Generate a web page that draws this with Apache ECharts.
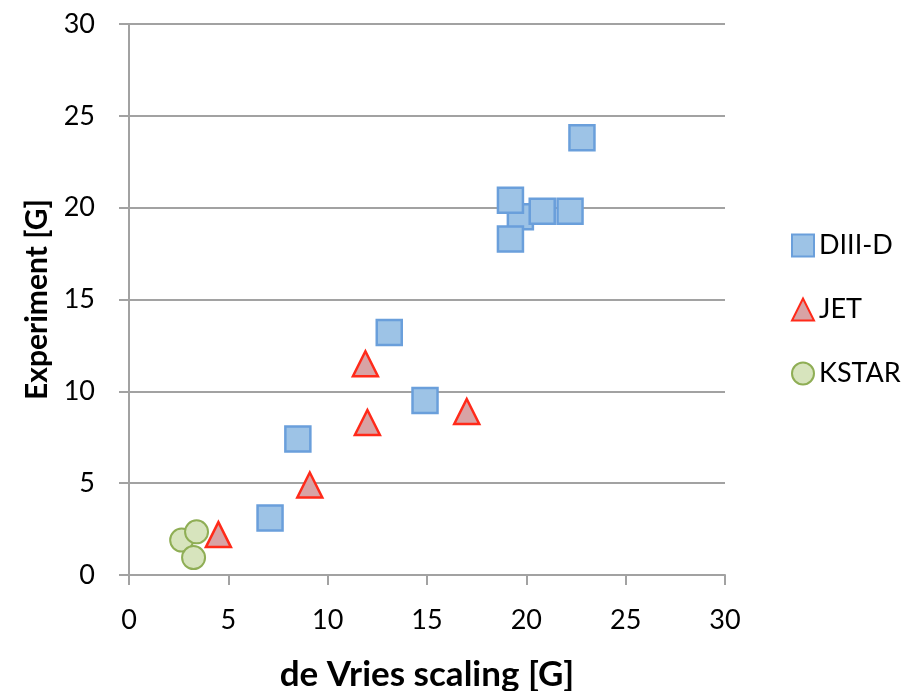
<!DOCTYPE html>
<html>
<head>
<meta charset="utf-8">
<title>Experiment vs de Vries scaling</title>
<script src="https://cdn.jsdelivr.net/npm/echarts@6/dist/echarts.min.js"></script>
<style>
  html, body { margin: 0; padding: 0; background: #fff; }
  #chart { width: 909px; height: 691px; }
</style>
</head>
<body>
<div id="chart"></div>
<script>
// Measured field values [G]: de Vries scaling (x) vs experiment (y)
const diiidX = [19.7, 19.2, 20.8, 22.2, 19.2, 22.8, 13.1, 14.9, 8.5, 7.1];
const diiidY = [19.5, 20.4, 19.8, 19.8, 18.3, 23.8, 13.2, 9.5, 7.4, 3.1];
const jetX = [4.5, 9.1, 11.9, 12.0, 17.0];
const jetY = [2.2, 4.9, 11.5, 8.3, 8.9];
const kstarX = [2.65, 3.4, 3.25];
const kstarY = [1.9, 2.35, 0.95];

const seriesNames = ['DIII-D', 'JET', 'KSTAR'];
const axisTicks = [0, 5, 10, 15, 20, 25, 30];

const pairs = (xs, ys) => xs.map((x, i) => [x, ys[i]]);

const FONT = 'Lato, "Open Sans", sans-serif';
const GRID_GREY = '#a2a2a2';

const chart = echarts.init(document.getElementById('chart'), null, { renderer: 'canvas' });

const axisCommon = {
  type: 'value',
  min: axisTicks[0],
  max: axisTicks[axisTicks.length - 1],
  interval: axisTicks[1] - axisTicks[0],
  axisLine: { show: true, onZero: false, lineStyle: { color: GRID_GREY, width: 2 } },
  axisTick: { show: true, inside: false, length: 10, lineStyle: { color: GRID_GREY, width: 2 } },
  axisLabel: { color: '#000', fontFamily: FONT, fontSize: 27 },
  nameLocation: 'middle'
};

chart.setOption({
  animation: false,
  backgroundColor: '#fff',
  grid: { left: 129, right: 184, top: 24, bottom: 116, containLabel: false, outerBoundsMode: 'none' },
  xAxis: Object.assign({}, axisCommon, {
    name: 'de Vries scaling [G]',
    nameGap: 82,
    nameTextStyle: { color: '#000', fontFamily: FONT, fontSize: 35, fontWeight: 'bold' },
    axisLabel: Object.assign({}, axisCommon.axisLabel, { margin: 32 }),
    splitLine: { show: false }
  }),
  yAxis: Object.assign({}, axisCommon, {
    name: 'Experiment [G]',
    nameGap: 76,
    nameTextStyle: { color: '#000', fontFamily: FONT, fontSize: 30, fontWeight: 'bold' },
    axisLabel: Object.assign({}, axisCommon.axisLabel, { margin: 34 }),
    splitLine: { show: true, lineStyle: { color: GRID_GREY, width: 2 } }
  }),
  legend: {
    orient: 'vertical',
    left: 791,
    top: 232,
    padding: 0,
    itemWidth: 22,
    itemHeight: 22,
    itemGap: 37,
    textStyle: { color: '#000', fontFamily: FONT, fontSize: 27, lineHeight: 27 },
    data: seriesNames
  },
  series: [
    {
      name: seriesNames[0],
      type: 'scatter',
      symbol: 'rect',
      symbolSize: 25,
      data: pairs(diiidX, diiidY),
      itemStyle: { color: '#9dc3e6', borderColor: '#6a9fdb', borderWidth: 2.5, opacity: 1 }
    },
    {
      name: seriesNames[1],
      type: 'scatter',
      symbol: 'triangle',
      symbolSize: 25,
      data: pairs(jetX, jetY),
      itemStyle: { color: '#d8a3a5', borderColor: '#ff2a1a', borderWidth: 2.5, opacity: 1 }
    },
    {
      name: seriesNames[2],
      type: 'scatter',
      symbol: 'circle',
      symbolSize: 23,
      data: pairs(kstarX, kstarY),
      itemStyle: { color: '#d7e4bd', borderColor: '#8fae55', borderWidth: 2, opacity: 1 }
    }
  ]
});
</script>
</body>
</html>
